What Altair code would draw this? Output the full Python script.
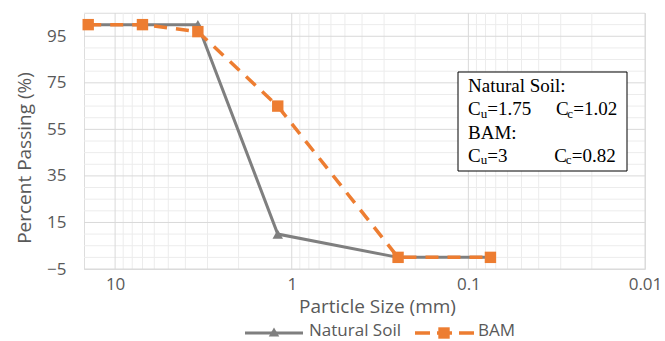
import altair as alt
import pandas as pd

# ---------------- data ----------------
sizes = [14.2, 7.0, 3.4, 1.2, 0.25, 0.075]
natural_soil = [100, 100, 100, 10, 0, 0]
bam = [100, 100, 97, 65, 0, 0]

x_major = [10, 1, 0.1, 0.01]
x_minor = [9, 8, 7, 6, 5, 4, 3, 2,
           0.9, 0.8, 0.7, 0.6, 0.5, 0.4, 0.3, 0.2,
           0.09, 0.08, 0.07, 0.06, 0.05, 0.04, 0.03, 0.02]
y_major = [-5, 15, 35, 55, 75, 95]
y_minor = [0, 5, 10, 20, 25, 30, 40, 45, 50, 60, 65, 70, 80, 85, 90, 100, 105]

series_names = ["Natural Soil", "BAM"]

# ---------------- layout ----------------
PL, PT, PR, PB = 84, 13, 20, 72
W, H = 665 - PL - PR, 341 - PT - PB
GRAY, ORANGE = "#7f7f7f", "#ED7D31"
TXT = "#595959"
SANS = "Open Sans"
SERIF = "Liberation Serif"

df = pd.DataFrame({
    "size": sizes * 2,
    "pct": natural_soil + bam,
    "series": [series_names[0]] * len(sizes) + [series_names[1]] * len(sizes),
})

xscale = alt.Scale(type="log", domain=[15, 0.01], nice=False)
yscale = alt.Scale(domain=[-5, 105], nice=False, zero=False)

xaxis = alt.Axis(values=x_major, format="~g", grid=False, ticks=False, domain=False,
                 labelFont=SANS, labelFontSize=17, labelColor=TXT, labelPadding=7,
                 labelOverlap=False, labelFlush=False, labelBound=False,
                 title="Particle Size (mm)", titleFont=SANS, titleFontSize=19,
                 titleFontWeight="normal", titleColor=TXT,
                 titleX=377 - PL, titleY=43, titleBaseline="alphabetic")
yaxis = alt.Axis(values=y_major, grid=False, ticks=False, domain=False,
                 labelFont=SANS, labelFontSize=17, labelColor=TXT, labelPadding=18,
                 labelOverlap=False,
                 title="Percent Passing (%)", titleFont=SANS, titleFontSize=19,
                 titleFontWeight="normal", titleColor=TXT,
                 titleX=24 - PL, titleY=157.5 - PT, titleAngle=270, titleBaseline="middle",
                 titleAlign="center")

one = pd.DataFrame({"k": [0]})

xminor_l = alt.Chart(pd.DataFrame({"v": x_minor})).mark_rule(color="#ececec", strokeWidth=1).encode(
    x=alt.X("v:Q", scale=xscale, axis=xaxis))
yminor_l = alt.Chart(pd.DataFrame({"v": y_minor})).mark_rule(color="#ececec", strokeWidth=1).encode(
    y=alt.Y("v:Q", scale=yscale, axis=yaxis))
xmajor_l = alt.Chart(pd.DataFrame({"v": x_major})).mark_rule(color="#d9d9d9", strokeWidth=1).encode(
    x=alt.X("v:Q", scale=xscale))
ymajor_l = alt.Chart(pd.DataFrame({"v": y_major})).mark_rule(color="#d9d9d9", strokeWidth=1).encode(
    y=alt.Y("v:Q", scale=yscale))

nat = df[df.series == series_names[0]]
bm = df[df.series == series_names[1]]

nat_line = alt.Chart(nat).mark_line(color=GRAY, strokeWidth=3).encode(
    x=alt.X("size:Q", scale=xscale),
    y=alt.Y("pct:Q", scale=yscale),
    order=alt.Order("size:Q", sort="descending"))
nat_pts = alt.Chart(nat).mark_point(shape="triangle-up", filled=True, size=110, color=GRAY, opacity=1).encode(
    x=alt.X("size:Q", scale=xscale), y=alt.Y("pct:Q", scale=yscale))
bam_line = alt.Chart(bm).mark_line(color=ORANGE, strokeWidth=3.5, strokeDash=[13, 9], strokeCap="butt").encode(
    x=alt.X("size:Q", scale=xscale), y=alt.Y("pct:Q", scale=yscale),
    order=alt.Order("size:Q", sort="descending"))
bam_pts = alt.Chart(bm).mark_point(shape="square", filled=True, size=130, color=ORANGE, opacity=1).encode(
    x=alt.X("size:Q", scale=xscale), y=alt.Y("pct:Q", scale=yscale))

# ---------------- legend (manual, Excel-like) ----------------
def px(x):
    return alt.value(x - PL)

def py(y):
    return alt.value(y - PT)

LY = 333     # legend line
TB = 336     # legend text baseline
leg = [
    alt.Chart(one).mark_rule(color=GRAY, strokeWidth=3).encode(x=px(245), x2=px(303), y=py(LY)),
    alt.Chart(one).mark_point(shape="triangle-up", filled=True, size=110, color=GRAY, opacity=1).encode(
        x=px(274), y=py(LY - 1)),
    alt.Chart(one).mark_text(text=series_names[0], font=SANS, fontSize=17, color=TXT, align="left",
                             baseline="alphabetic").encode(x=px(309), y=py(TB)),
    alt.Chart(one).mark_rule(color=ORANGE, strokeWidth=3.5, strokeDash=[15, 7], strokeCap="butt").encode(
        x=px(415), x2=px(474), y=py(LY)),
    alt.Chart(one).mark_point(shape="square", filled=True, size=130, color=ORANGE, opacity=1).encode(
        x=px(444), y=py(LY)),
    alt.Chart(one).mark_text(text=series_names[1], font=SANS, fontSize=17, color=TXT, align="left",
                             baseline="alphabetic").encode(x=px(478), y=py(TB)),
]

# ---------------- annotation box ----------------
box = alt.Chart(one).mark_rect(fill="white", stroke="black", strokeWidth=1).encode(
    x=px(458), x2=px(627), y=py(72), y2=py(171))

ann_pieces = [
    ("Natural Soil:", 468, 92, 19),
    ("C", 468, 115, 19), ("u", 480.7, 117.5, 13), ("=1.75", 487.3, 115, 19),
    ("C", 556, 115, 19), ("c", 567.3, 117.5, 13), ("=1.02", 573.3, 115, 19),
    ("BAM:", 468, 138.5, 19),
    ("C", 468, 161.5, 19), ("u", 480.7, 164, 13), ("=3", 487.3, 161.5, 19),
    ("C", 554.3, 161.5, 19), ("c", 565.7, 164, 13), ("=0.82", 571.7, 161.5, 19),
]
ann = [alt.Chart(one).mark_text(text=t, font=SERIF, fontSize=fs, color="black", align="left",
                                baseline="alphabetic").encode(x=px(x), y=py(y))
       for (t, x, y, fs) in ann_pieces]

chart = alt.layer(
    xminor_l, yminor_l, xmajor_l, ymajor_l,
    nat_line, nat_pts, bam_line, bam_pts,
    box, *ann, *leg,
).properties(
    width=W, height=H,
    autosize=alt.AutoSizeParams(type="none"),
    padding={"left": PL, "top": PT, "right": PR, "bottom": PB},
).configure_view(stroke="#e3e3e3").configure(background="white")

chart.save("out.html", embed_options={"renderer": "svg", "actions": False})
